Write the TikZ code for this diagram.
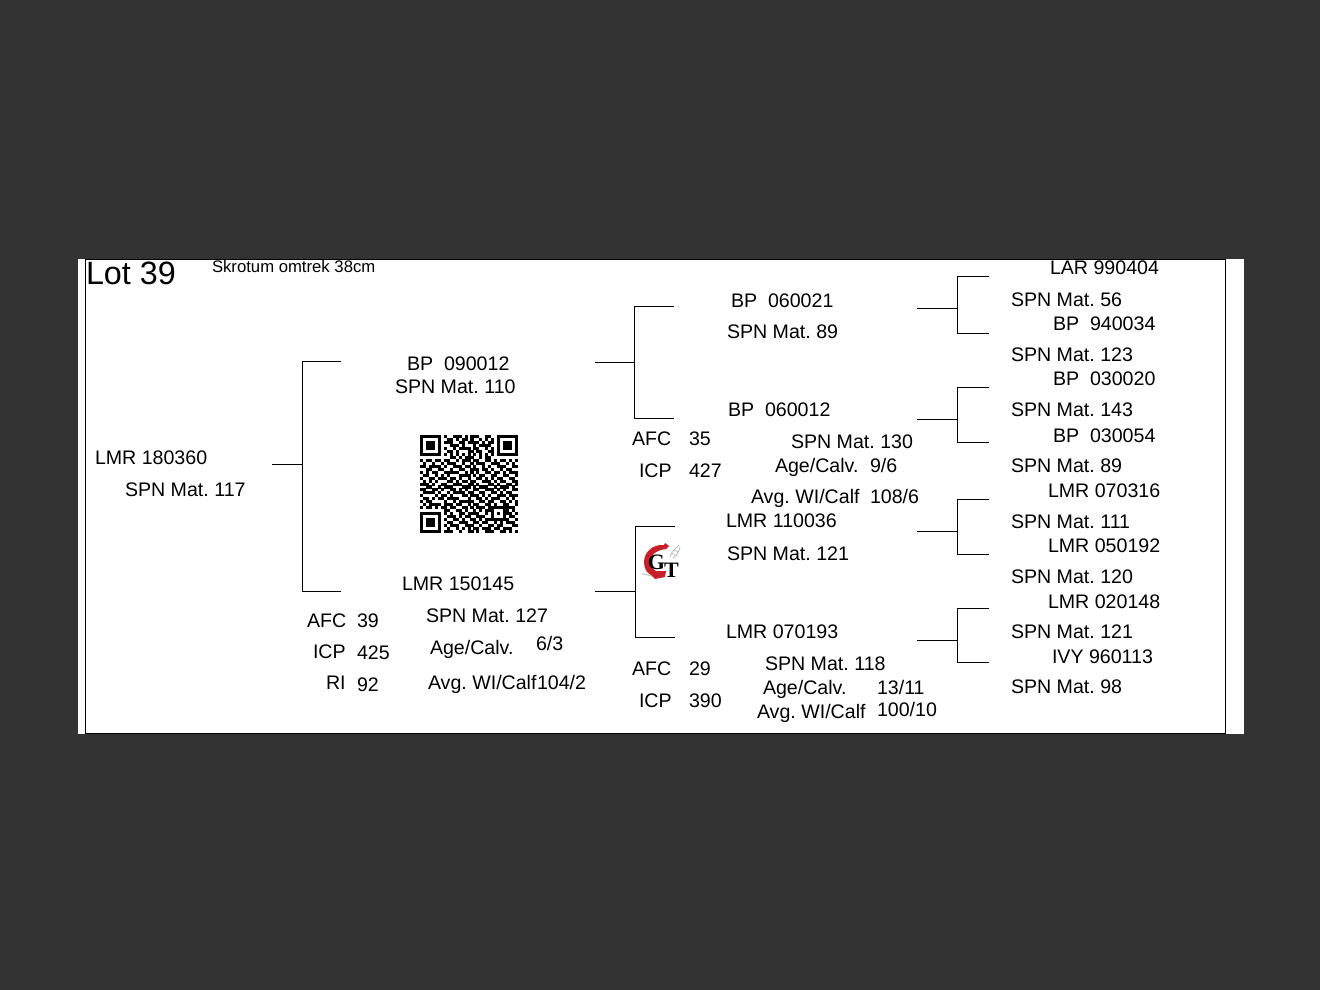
\documentclass[tikz,border=0pt]{standalone}
\usepackage{fontspec}
\setmainfont{Liberation Sans}
\newfontfamily\logofont{Liberation Serif}
\definecolor{backdrop}{HTML}{333333}
\definecolor{logored}{HTML}{C8202A}
\definecolor{logogray}{HTML}{B5B8BC}
\newcount\qrx
\newcount\qry
\def\qrwalk#1{\ifx#1\relax\else\ifx#11\fill ({420+2.97*\the\qrx},{435+2.97*\the\qry}) rectangle ++(3.02,3.02);\fi\advance\qrx by 1 \expandafter\qrwalk\fi}
\def\qrrow#1{\qrx=0 \qrwalk#1\relax\advance\qry by 1 }
\tikzset{
  lbl/.style={anchor=base west,inner sep=0pt,outer sep=0pt,font=\frenchspacing\fontsize{19.6}{22}\selectfont,text=black},
  small/.style={lbl,font=\frenchspacing\fontsize{16.7}{20}\selectfont},
  big/.style={lbl,font=\fontsize{32.3}{36}\selectfont},
  wire/.style={draw=black,line width=1pt},
  logoletter/.style={inner sep=0pt,outer sep=0pt,text=black,font=\logofont\bfseries\fontsize{22}{24}\selectfont}
}
\begin{document}
\begin{tikzpicture}[x=1pt,y=-1pt]
\useasboundingbox (0,0) rectangle (1320,990);
\fill[backdrop] (0,0) rectangle (1320,990);
\fill[white] (78,259) rectangle (1244,734);
\draw[wire] (85.5,259) rectangle (1225.5,733.5);

% brackets
\foreach \n/\sx/\sy/\vx/\ty/\by/\ex in {
  1/272/464/302/361/591/341,
  2/595/362/634/306/418/674,
  3/595/591/635/526/637/675,
  4/917/308/957/276/333/989,
  5/917/419/957/387/442/989,
  6/917/531/957/499/554/989,
  7/917/640/957/608/662/989}{
  \coordinate (s\n) at (\sx,\sy);
  \coordinate (j\n) at (\vx,\sy);
  \coordinate (a\n) at (\vx,\ty);
  \coordinate (c\n) at (\vx,\by);
  \coordinate (t\n) at (\ex,\ty);
  \coordinate (u\n) at (\ex,\by);
  \draw[wire] (s\n) -- (j\n);
  \draw[wire] (t\n) -- (a\n) -- (c\n) -- (u\n);
}

% header
\node[big] (lot) at (86,284) {Lot 39};
\node[small] (skrotum) at (212,272) {Skrotum omtrek 38cm};

% animal
\node[lbl] (n01) at (95,464) {LMR 180360};
\node[lbl] (n02) at (125,496) {SPN Mat. 117};

% generation 1
\node[lbl] (n03) at (407,370) {BP\ \ 090012};
\node[lbl] (n04) at (395,393) {SPN Mat. 110};
\node[lbl] (n05) at (402,590) {LMR 150145};
\node[lbl] (n06) at (307,627) {AFC};
\node[lbl] (n07) at (357,627) {39};
\node[lbl] (n08) at (426,622) {SPN Mat. 127};
\node[lbl] (n09) at (313,658) {ICP};
\node[lbl] (n10) at (357,659) {425};
\node[lbl] (n11) at (430,654) {Age/Calv.};
\node[lbl] (n12) at (536,650) {6/3};
\node[lbl] (n13) at (326,689) {RI};
\node[lbl] (n14) at (357,691) {92};
\node[lbl] (n15) at (428,689) {Avg. WI/Calf};
\node[lbl] (n16) at (537,689) {104/2};

% generation 2
\node[lbl] (n17) at (731,307) {BP\ \ 060021};
\node[lbl] (n18) at (727,338) {SPN Mat. 89};
\node[lbl] (n19) at (728,416) {BP\ \ 060012};
\node[lbl] (n20) at (632,445) {AFC};
\node[lbl] (n21) at (689,445) {35};
\node[lbl] (n22) at (639,477) {ICP};
\node[lbl] (n23) at (689,477) {427};
\node[lbl] (n24) at (791,448) {SPN Mat. 130};
\node[lbl] (n25) at (775,472) {Age/Calv.};
\node[lbl] (n26) at (870,472) {9/6};
\node[lbl] (n27) at (751,503) {Avg. WI/Calf};
\node[lbl] (n28) at (870,503) {108/6};
\node[lbl] (n29) at (726,527) {LMR 110036};
\node[lbl] (n30) at (727,560) {SPN Mat. 121};
\node[lbl] (n31) at (726,638) {LMR 070193};
\node[lbl] (n32) at (632,675) {AFC};
\node[lbl] (n33) at (689,675) {29};
\node[lbl] (n34) at (639,707) {ICP};
\node[lbl] (n35) at (689,707) {390};
\node[lbl] (n36) at (765,670) {SPN Mat. 118};
\node[lbl] (n37) at (763,694) {Age/Calv.};
\node[lbl] (n38) at (877,694) {13/11};
\node[lbl] (n39) at (757,718) {Avg. WI/Calf};
\node[lbl] (n40) at (877,716) {100/10};

% generation 3
\node[lbl] (n41) at (1050,274) {LAR 990404};
\node[lbl] (n42) at (1011,306) {SPN Mat. 56};
\node[lbl] (n43) at (1053,330) {BP\ \ 940034};
\node[lbl] (n44) at (1011,361) {SPN Mat. 123};
\node[lbl] (n45) at (1053,385) {BP\ \ 030020};
\node[lbl] (n46) at (1011,416) {SPN Mat. 143};
\node[lbl] (n47) at (1053,442) {BP\ \ 030054};
\node[lbl] (n48) at (1011,472) {SPN Mat. 89};
\node[lbl] (n49) at (1048,497) {LMR 070316};
\node[lbl] (n50) at (1011,528) {SPN Mat. 111};
\node[lbl] (n51) at (1048,552) {LMR 050192};
\node[lbl] (n52) at (1011,583) {SPN Mat. 120};
\node[lbl] (n53) at (1048,608) {LMR 020148};
\node[lbl] (n54) at (1011,638) {SPN Mat. 121};
\node[lbl] (n55) at (1052,663) {IVY 960113};
\node[lbl] (n56) at (1011,693) {SPN Mat. 98};

% QR code
\qry=0
\qrrow{111 111 101 001 110 101 110 011 001 111 111}
\qrrow{100 000 100 110 101 101 001 010 101 000 001}
\qrrow{101 110 101 110 011 011 110 101 101 011 101}
\qrrow{101 110 100 011 101 000 101 111 001 011 101}
\qrrow{101 110 101 001 011 110 110 010 101 011 101}
\qrrow{100 000 100 110 100 011 011 001 101 000 001}
\qrrow{111 111 101 010 101 010 101 010 101 111 111}
\qrrow{000 000 000 011 010 111 001 011 000 000 000}
\qrrow{101 101 101 100 101 110 110 011 010 110 101}
\qrrow{010 010 010 111 001 001 011 100 111 001 010}
\qrrow{110 111 101 001 110 110 100 101 001 110 011}
\qrrow{001 100 110 010 011 001 110 110 100 101 100}
\qrrow{101 011 001 111 100 101 010 011 011 010 111}
\qrrow{011 001 010 100 011 110 101 100 110 011 001}
\qrrow{100 110 111 011 010 010 011 010 101 100 110}
\qrrow{010 101 000 110 101 101 100 111 010 110 011}
\qrrow{111 010 011 001 110 011 010 001 101 001 101}
\qrrow{001 100 101 110 001 110 101 110 010 111 010}
\qrrow{110 011 010 011 010 100 110 011 101 010 011}
\qrrow{011 110 100 101 111 011 001 100 110 101 100}
\qrrow{100 001 011 010 001 101 110 101 001 110 111}
\qrrow{011 010 110 111 100 010 011 010 111 001 010}
\qrrow{101 100 001 001 011 111 001 101 100 110 101}
\qrrow{010 111 101 110 110 010 110 011 010 011 001}
\qrrow{101 101 011 011 001 101 011 101 111 111 110}
\qrrow{000 000 001 100 110 100 101 011 100 011 010}
\qrrow{111 111 101 010 011 011 110 010 101 011 101}
\qrrow{100 000 100 111 010 110 011 100 100 010 110}
\qrrow{101 110 101 001 101 001 101 011 111 111 001}
\qrrow{101 110 100 110 011 100 110 110 010 101 110}
\qrrow{101 110 101 011 100 111 001 001 101 100 011}
\qrrow{100 000 100 100 101 010 110 111 011 011 100}
\qrrow{111 111 101 110 010 011 010 011 100 110 101}

% logo
\draw[logogray,line width=0.8pt] (670,557) .. controls (672,551) and (675,549) .. (679,545);
\draw[logogray,line width=0.8pt] (673,558) .. controls (677,555) and (679,551) .. (680,547);
\draw[logogray,line width=0.5pt] (671,553) -- (677,556) (673,550) -- (679,552);
\draw[logogray,line width=0.8pt] (641,574) .. controls (645,573) and (648,576) .. (652,576);
\fill[logored] (669,546) -- (665,543) -- (664,545) .. controls (653,544) and (644,552) .. (644,562)
  .. controls (644,569) and (647,573) .. (651,575) -- (655,579) -- (665,577) -- (666,571)
  -- (656,571) .. controls (652,569) and (650,565) .. (650,561)
  .. controls (650,555) and (657,550) .. (666,549) -- cycle;
\node[logoletter] (logog) at (656.5,562.5) {G};
\node[logoletter] (logot) at (671.5,570) {T};
\end{tikzpicture}
\end{document}
